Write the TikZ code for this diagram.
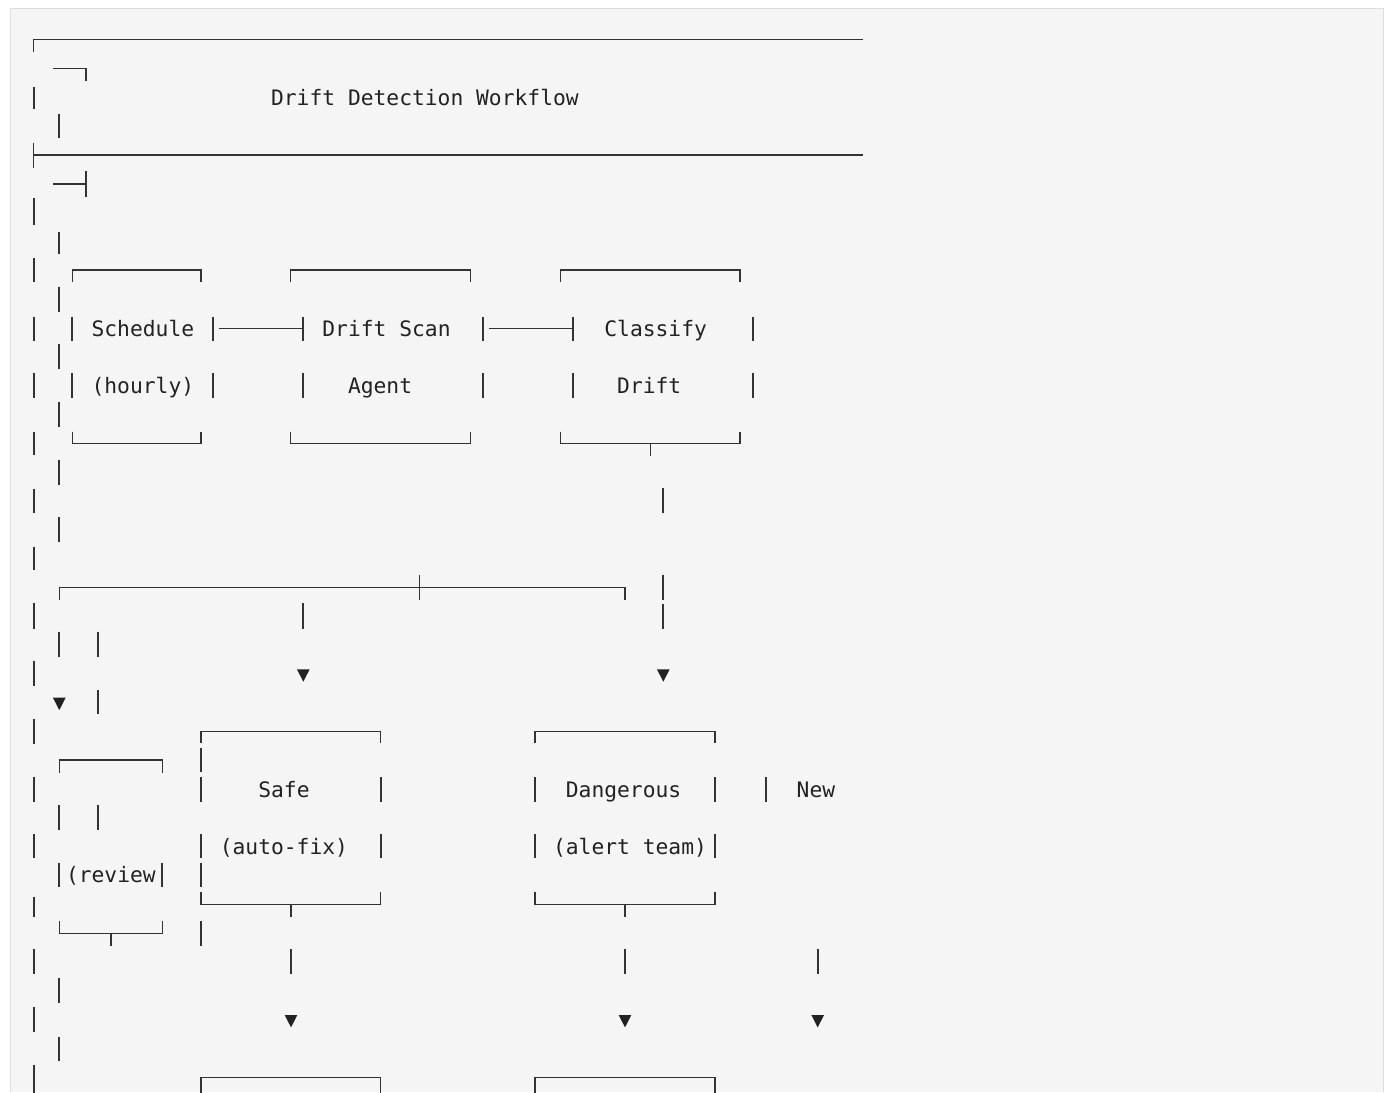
\documentclass[tikz,border=0pt]{standalone}
\usepackage{fontspec}
\setmonofont{DejaVu Sans Mono}
\definecolor{panel}{HTML}{F5F5F5}
\definecolor{edge}{HTML}{DEDEDE}
\definecolor{ink}{HTML}{333333}
\definecolor{txtc}{HTML}{222222}
\begin{document}
\begin{tikzpicture}[x=1pt,y=-1pt,
  ln/.style={draw=ink,line width=1.4pt,line join=miter},
  vbar/.style={draw=ink,line width=1.7pt},
  tri/.style={fill=txtc},
  lbl/.style={anchor=base west,inner sep=0pt,text=txtc,font=\ttfamily\fontsize{21.29}{25}\selectfont}]
\useasboundingbox (0,0) rectangle (1391,1092);
\fill[white] (0,0) rectangle (1391,1092);
\fill[panel] (10.5,8.5) rectangle (1383.5,1092);
\draw[edge,line width=1.5pt] (10.5,1092) -- (10.5,8.5) -- (1383.5,8.5) -- (1383.5,1092);

% horizontal rules and corners
\draw[ln] (33.7,52.3) -- (33.7,39.3) -- (862.7,39.3);
\draw[ln] (53.3,68.3) -- (86,68.3) -- (86,81);
\draw[ln] (33.7,143.3) -- (33.7,168.3);
\draw[ln] (33.7,155) -- (862.7,155);
\draw[ln] (53.3,184) -- (86,184);
\draw[ln] (86,171) -- (86,196.7);
% top row boxes
\draw[ln] (72.3,282.3) -- (72.3,270) -- (201,270) -- (201,282.3);
\draw[ln] (290.7,282.3) -- (290.7,270) -- (470.7,270) -- (470.7,282.3);
\draw[ln] (560.7,282.3) -- (560.7,270) -- (740,270) -- (740,282.3);
\draw[ln] (219,328.3) -- (303.3,328.3);
\draw[ln] (489.3,328.3) -- (573.3,328.3);
\draw[ln] (72.3,431.7) -- (72.3,443.3) -- (201,443.3) -- (201,431.7);
\draw[ln] (290.7,431.7) -- (290.7,443.3) -- (470.7,443.3) -- (470.7,431.7);
\draw[ln] (560.7,431.7) -- (560.7,443.3) -- (740,443.3) -- (740,431.7);
\draw[ln] (650.7,443.3) -- (650.7,456);
% branch line
\draw[ln] (59.3,600) -- (59.3,587.7) -- (625,587.7) -- (625,600);
\draw[ln] (419.3,575) -- (419.3,600);
% middle boxes
\draw[ln] (201,743.3) -- (201,731.7) -- (380.7,731.7) -- (380.7,743.3);
\draw[ln] (535,743.3) -- (535,731.7) -- (715,731.7) -- (715,743.3);
\draw[ln] (59.3,772.7) -- (59.3,760) -- (162.3,760) -- (162.3,772.7);
\draw[ln] (201,891.7) -- (201,904.3) -- (380.7,904.3) -- (380.7,891.7);
\draw[ln] (291,904.3) -- (291,916.7);
\draw[ln] (535,891.7) -- (535,904.3) -- (715,904.3) -- (715,891.7);
\draw[ln] (625,904.3) -- (625,916.7);
\draw[ln] (59.3,921) -- (59.3,933.3) -- (162.3,933.3) -- (162.3,921);
\draw[ln] (111,933.3) -- (111,946);
% bottom boxes
\draw[ln] (201,1093) -- (201,1077.3) -- (380.7,1077.3) -- (380.7,1093);
\draw[ln] (535,1093) -- (535,1077.3) -- (715,1077.3) -- (715,1093);

% vertical bars
\foreach \x/\a/\b in {
  33.7/87.3/109.3, 33.7/198.3/225, 33.7/258.3/282, 33.7/316.7/341, 33.7/373.3/397.7,
  33.7/432.3/455, 33.7/489/513.3, 33.7/546.7/570, 33.7/603.3/629.3, 33.7/660.7/686,
  33.7/719.3/744, 33.7/777.3/802.3, 33.7/834/858.3, 33.7/897.3/917.3, 33.7/949.3/974,
  33.7/1006.7/1031.7, 33.7/1065/1093,
  59.3/114.3/138.3, 59.3/232.3/254, 59.3/286.7/311.7, 59.3/344/369, 59.3/401.7/426.7,
  59.3/460/485, 59.3/517.3/541.7, 59.3/631.7/656.7, 59.3/805/830, 59.3/863.3/887.3,
  59.3/978.3/1002.7, 59.3/1036.7/1060.7,
  97.7/631.7/656.7, 97.7/690/714.3, 97.7/805/830,
  72.3/316.7/341, 72.3/373.3/397.7, 213.3/316.7/341, 213.3/373.3/397.7,
  303.3/316.7/341, 303.3/373.3/397.7, 303.3/603.3/629.3,
  483.3/316.7/341, 483.3/373.3/397.7, 573.3/316.7/341, 573.3/373.3/397.7,
  753.3/316.7/341, 753.3/373.3/397.7,
  663.3/488.3/513.3, 663.3/575/600, 663.3/604/629.3,
  201/748.3/772.3, 201/777.3/802.3, 201/834/858.3, 201/863.3/887.3, 201/921/946,
  380.7/777.3/802.3, 380.7/834/858.3, 535/777.3/802.3, 535/834/858.3,
  715/777.3/802.3, 715/834/858.3, 766/777.3/802.3, 162.3/863.3/887.3,
  291/949.3/974, 625/949.3/974, 817.7/949.3/974}
  \draw[vbar] (\x,\a) -- (\x,\b);

% arrowheads
\foreach \x/\t in {303.3/669.3, 663.3/669.3, 59.3/697.7, 291/1015, 625/1015, 817.7/1015}
  \fill[tri] (\x-6.35,\t) -- (\x+6.35,\t) -- (\x,\t+12.4) -- cycle;

% texts
\node[lbl] (title) at (270.9,105.3) {Drift Detection Workflow};
\node[lbl] (sched) at (91.4,336.5) {Schedule};
\node[lbl] (scan) at (322.2,336.5) {Drift Scan};
\node[lbl] (cls) at (604.2,336.5) {Classify};
\node[lbl] (hourly) at (91.4,393.3) {(hourly)};
\node[lbl] (agent) at (347.8,393.3) {Agent};
\node[lbl] (drift) at (617.0,393.3) {Drift};
\node[lbl] (safe) at (258.1,797) {Safe};
\node[lbl] (dang) at (565.7,797) {Dangerous};
\node[lbl] (new) at (796.5,797) {New};
\node[lbl] (autofix) at (219.6,854) {(auto-fix)};
\node[lbl] (alert) at (552.9,854) {(alert team)};
\node[lbl] (review) at (65.8,882.7) {(review};
\end{tikzpicture}
\end{document}
